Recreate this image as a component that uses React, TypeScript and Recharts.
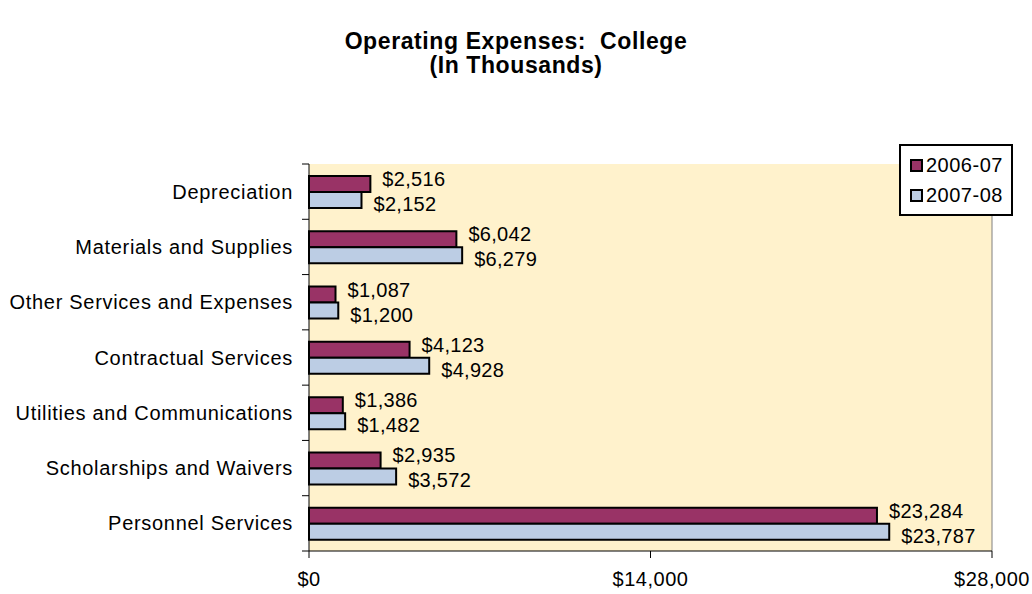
import React from "react";
import {
  BarChart,
  Bar,
  XAxis,
  YAxis,
  Legend,
  ReferenceLine,
  LabelList,
} from "recharts";

const categories = [
  "Depreciation",
  "Materials and Supplies",
  "Other Services and Expenses",
  "Contractual Services",
  "Utilities and Communications",
  "Scholarships and Waivers",
  "Personnel Services",
];
const values0607 = [2516, 6042, 1087, 4123, 1386, 2935, 23284];
const values0708 = [2152, 6279, 1200, 4928, 1482, 3572, 23787];
const xTicks = [0, 14000, 28000];

const SERIES = [
  { key: "y0607", name: "2006-07", color: "#993366", dy: -5 },
  { key: "y0708", name: "2007-08", color: "#BCCDE4", dy: 4 },
];

const data = categories.map((name, i) => ({
  name,
  y0607: values0607[i],
  y0708: values0708[i],
}));

const FONT = "Arial, 'Liberation Sans', sans-serif";
const money = (v: number) => "$" + v.toLocaleString("en-US");

// Excel style: ticks sit between categories, not at their centres
const CategoryTick = ({ x, y, payload, index }: any) => {
  const band = 387 / categories.length;
  return (
    <g>
      <text
        x={x - 16}
        y={y}
        textAnchor="end"
        dominantBaseline="central"
        fontFamily={FONT}
        fontSize={20}
        letterSpacing={0.7}
        fill="#000"
      >
        {payload.value}
      </text>
      <line x1={x - 7} x2={x} y1={y - band / 2} y2={y - band / 2} stroke="#000" strokeWidth={1} />
      {index === categories.length - 1 && (
        <line x1={x - 7} x2={x} y1={y + band / 2} y2={y + band / 2} stroke="#000" strokeWidth={1} />
      )}
    </g>
  );
};

const makeLabel = (dy: number) => (props: any) => {
  const { x, y, width, height, value } = props;
  return (
    <text
      x={x + width + 12}
      y={y + height / 2 + dy}
      dominantBaseline="central"
      fontFamily={FONT}
      fontSize={20}
      letterSpacing={0.3}
      fill="#000"
    >
      {money(value)}
    </text>
  );
};

const LegendBox = () => (
  <div
    style={{
      border: "2px solid #000",
      background: "#fff",
      width: 114,
      padding: "4px 0 4px 9px",
      fontFamily: FONT,
      fontSize: 20,
      letterSpacing: 0.5,
      boxSizing: "border-box",
      textAlign: "left",
    }}
  >
    {SERIES.map((s) => (
      <div key={s.key} style={{ display: "flex", alignItems: "center", height: 30 }}>
        <span
          style={{
            width: 9,
            height: 9,
            border: "2px solid #000",
            background: s.color,
            marginRight: 3,
            display: "inline-block",
          }}
        />
        {s.name}
      </div>
    ))}
  </div>
);

export default function App() {
  return (
    <div style={{ position: "absolute", left: 0, top: 0, width: 1032, height: 594, background: "#fff" }}>
      <div
        style={{
          position: "absolute",
          left: 0,
          top: 29,
          width: 1032,
          textAlign: "center",
          fontFamily: FONT,
          fontWeight: "bold",
          fontSize: 23,
          lineHeight: "24px",
          letterSpacing: 0.6,
        }}
      >
        Operating Expenses:&nbsp; College
        <br />
        (In Thousands)
      </div>
      <BarChart
        width={1032}
        height={594}
        data={data}
        layout="vertical"
        margin={{ top: 164, right: 40, bottom: 0, left: 0 }}
        barSize={16}
        barGap={0}
      >
        <rect x={309} y={164} width={683} height={387} fill="#FFF2CC" />
        <XAxis
          type="number"
          domain={[0, 28000]}
          ticks={xTicks}
          tickFormatter={money}
          height={43}
          tickSize={7}
          tickMargin={14}
          axisLine={{ stroke: "#000" }}
          tickLine={{ stroke: "#000" }}
          tick={{ fill: "#000", fontFamily: FONT, fontSize: 20, letterSpacing: 0.5 }}
        />
        <YAxis
          type="category"
          dataKey="name"
          width={309}
          tickSize={0}
          tickMargin={0}
          tickLine={false}
          axisLine={{ stroke: "#000" }}
          tick={<CategoryTick />}
          interval={0}
        />
        <ReferenceLine x={28000} stroke="#808080" strokeWidth={1} />
        <Legend
          layout="horizontal"
          verticalAlign="middle"
          align="center"
          content={<LegendBox />}
          wrapperStyle={{ position: "absolute", left: 899, top: 144, width: 114 }}
        />
        {SERIES.map((s) => (
          <Bar
            key={s.key}
            dataKey={s.key}
            name={s.name}
            fill={s.color}
            stroke="#000"
            strokeWidth={2}
            isAnimationActive={false}
          >
            <LabelList dataKey={s.key} content={makeLabel(s.dy)} />
          </Bar>
        ))}
      </BarChart>
    </div>
  );
}
